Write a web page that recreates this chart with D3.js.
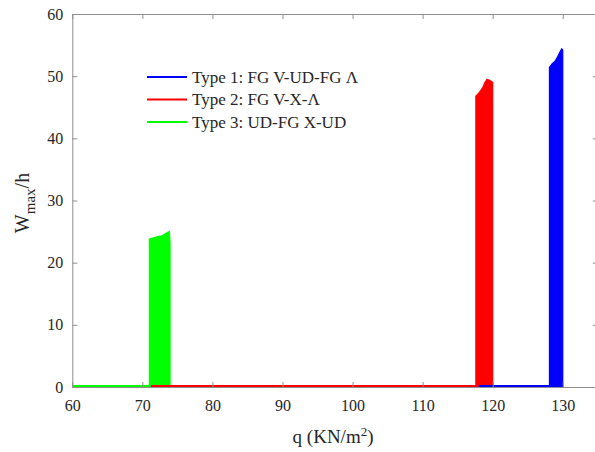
<!DOCTYPE html>
<html><head><meta charset="utf-8">
<script src="https://cdn.jsdelivr.net/npm/d3@7"></script>
<style>body{margin:0;background:#fff}svg{display:block}</style>
</head><body>
<svg id="c" width="595" height="452"></svg>
<script>
// ---- data ----
const xTicks = [60,70,80,90,100,110,120,130];
const yTicks = [0,10,20,30,40,50,60];
const seriesNames = ["Type 1: FG V-UD-FG \u039B","Type 2: FG V-X-\u039B","Type 3: UD-FG X-UD"];
const seriesColors = ["#0000ff","#ff0000","#00ff00"];
// baseline ranges of q where W/h stays ~0
const baseType1 = [[118,0.15],[130,0.15]];
const baseType2 = [[71.2,0.15],[120,0.15]];
const baseType3 = [[60,0.15],[74,0.15]];
// upper envelope of the dense oscillation bands
const envType1 = [[128.1,51.4],[128.5,52.0],[128.9,52.4],[129.3,53.2],[129.6,53.9],[129.85,54.4],[130.0,54.2]];
const envType2 = [[117.6,46.8],[118.1,47.4],[118.6,48.2],[118.9,49.0],[119.2,49.5],[119.6,49.3],[120.0,49.0]];
const envType3 = [[71.0,23.8],[71.6,24.0],[72.2,24.2],[72.8,24.3],[73.2,24.6],[73.6,24.9],[73.85,25.0],[73.95,23.2]];

const FONT = '"Liberation Serif", serif';
const svg = d3.select("#c");
const L = 72.3, R = 597.8, T = 14, B = 387;
const x = d3.scaleLinear().domain([60,135]).range([L,R]);
const y = d3.scaleLinear().domain([0,60]).range([B,T]);
const axisCol = "#8f8f8f", txtCol = "#262626";

// data layers: draw order green, red, blue
const layers = [
  {base: baseType3, env: envType3, col: seriesColors[2]},
  {base: baseType2, env: envType2, col: seriesColors[1]},
  {base: baseType1, env: envType1, col: seriesColors[0]}
];
const area = d3.area().x(d=>x(d[0])).y0(y(0)).y1(d=>y(d[1]));
const line = d3.line().x(d=>x(d[0])).y(d=>y(d[1]));
const g = svg.append("g");
layers.forEach(l=>{
  g.append("path").attr("d", line(l.base)).attr("fill","none").attr("stroke",l.col).attr("stroke-width",2);
  g.append("path").attr("d", area(l.env)).attr("fill",l.col).attr("stroke",l.col).attr("stroke-width",1.2);
});

// axes
const axB = d3.axisBottom(x).tickValues(xTicks).tickSizeInner(-5).tickSizeOuter(0).tickPadding(10);
const ax = svg.append("g").attr("transform",`translate(0,${B})`).call(axB);
const axT = d3.axisTop(x).tickValues(xTicks).tickSizeInner(-5).tickSizeOuter(0).tickFormat("");
svg.append("g").attr("transform",`translate(0,${T})`).call(axT);
const axL = d3.axisLeft(y).tickValues(yTicks).tickSizeInner(-5).tickSizeOuter(0).tickPadding(9);
svg.append("g").attr("transform",`translate(${L},0)`).call(axL);
const axR = d3.axisRight(y).tickValues(yTicks).tickSizeInner(-5).tickSizeOuter(0).tickFormat("");
svg.append("g").attr("transform",`translate(${R},0)`).call(axR);
svg.selectAll(".domain").attr("stroke",axisCol).attr("stroke-width",1);
svg.selectAll(".tick line").attr("stroke",axisCol);
svg.selectAll(".tick text").attr("fill",txtCol).style("font-size","16px").style("font-family",FONT);
ax.selectAll(".tick text").attr("dy","0.85em");

// axis labels
const xl = svg.append("text").attr("x",(L+R)/2 - 2).attr("y",443).attr("text-anchor","middle")
  .attr("fill",txtCol).style("font-size","19px").style("font-family",FONT);
xl.append("tspan").text("q (KN/m");
xl.append("tspan").text("2").attr("dy","-7").style("font-size","13px");
xl.append("tspan").text(")").attr("dy","7");

const yl = svg.append("text").attr("transform","translate(29,203) rotate(-90)").attr("text-anchor","middle")
  .attr("fill",txtCol).style("font-size","20px").style("font-family",FONT);
yl.append("tspan").text("W");
yl.append("tspan").text("max").attr("dy","6").style("font-size","15px");
yl.append("tspan").text("/h").attr("dy","-6");

// legend
const lg = svg.append("g");
seriesNames.forEach((n,i)=>{
  const yy = 77 + i*22.5;
  lg.append("line").attr("x1",147).attr("x2",187).attr("y1",yy).attr("y2",yy)
    .attr("stroke",seriesColors[i]).attr("stroke-width",2);
  lg.append("text").attr("x",192).attr("y",yy).attr("dy","0.35em").attr("fill",txtCol)
    .style("font-size","17px").style("font-family",FONT).text(n);
});
</script>
</body></html>
